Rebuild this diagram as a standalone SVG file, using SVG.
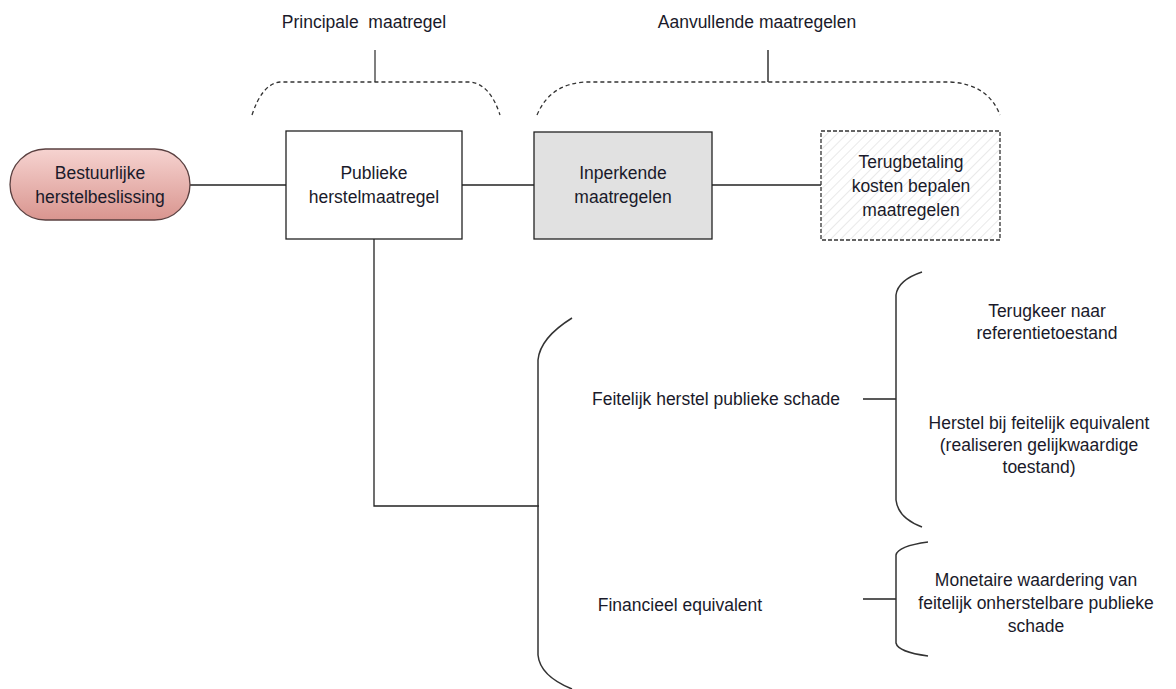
<svg xmlns="http://www.w3.org/2000/svg" width="1176" height="689" viewBox="0 0 1176 689">
<style>
text{font-family:"Liberation Sans",Arial,sans-serif;font-size:17.5px;fill:#1a1a2a;text-anchor:middle}
.ln{stroke:#222;stroke-width:1.3;fill:none}
.br{stroke:#333;stroke-width:1.5;fill:none}
.dbr{stroke:#333;stroke-width:1.3;fill:none;stroke-dasharray:4 3}
.box{stroke:#222;stroke-width:1.3}
</style>
<defs>
<linearGradient id="pill" x1="0" y1="0" x2="0" y2="1">
<stop offset="0" stop-color="#f6d3d0"/>
<stop offset="1" stop-color="#d9958f"/>
</linearGradient>
<pattern id="hatch" width="7" height="7" patternUnits="userSpaceOnUse" patternTransform="rotate(45)">
<line x1="0" y1="0" x2="0" y2="7" stroke="#d4d4d4" stroke-width="1"/>
</pattern>
</defs>
<rect width="1176" height="689" fill="#fff"/>
<g id="connectors">
<line class="ln" x1="190" y1="185" x2="286" y2="185"/>
<line class="ln" x1="462" y1="185" x2="534" y2="185"/>
<line class="ln" x1="712" y1="185" x2="821" y2="185"/>
<polyline class="ln" points="374,239 374,506 539,506"/>
<line class="ln" x1="863" y1="399" x2="896" y2="399"/>
<line class="ln" x1="863" y1="599" x2="896" y2="599"/>
</g>
<g id="brace-principale">
<text x="364" y="28" xml:space="preserve">Principale  maatregel</text>
<line x1="375" y1="50" x2="375" y2="82" stroke="#555" stroke-width="1.5"/>
<path class="dbr" d="M252,115 Q262,84 280,82 L470,82 Q490,84 500,115"/>
</g>
<g id="brace-aanvullende">
<text x="757" y="28">Aanvullende maatregelen</text>
<line x1="768" y1="50" x2="768" y2="82" stroke="#333" stroke-width="1.5"/>
<path class="dbr" d="M537,115 Q550,84 585,82 L950,82 Q988,84 1000,115"/>
</g>
<g id="node-bestuurlijke">
<rect x="10" y="149" width="180" height="71" rx="35.5" fill="url(#pill)" stroke="#5a4040" stroke-width="1.3"/>
<text x="100" y="179">Bestuurlijke</text>
<text x="100" y="203">herstelbeslissing</text>
</g>
<g id="node-publieke">
<rect class="box" x="286" y="131" width="176" height="108" fill="#fff"/>
<text x="374" y="179">Publieke</text>
<text x="374" y="203">herstelmaatregel</text>
</g>
<g id="node-inperkende">
<rect class="box" x="534" y="132" width="178" height="107" fill="#e1e1e1"/>
<text x="623" y="179">Inperkende</text>
<text x="623" y="203">maatregelen</text>
</g>
<g id="node-terugbetaling">
<rect x="821" y="131" width="179" height="109" fill="url(#hatch)" stroke="#333" stroke-width="1.3" stroke-dasharray="4 2"/>
<text x="911" y="168">Terugbetaling</text>
<text x="911" y="192">kosten bepalen</text>
<text x="911" y="216">maatregelen</text>
</g>
<g id="brace-main">
<path class="br" d="M572,318 Q540,338 538,360 L538,655 Q540,676 572,689"/>
<text x="716" y="405">Feitelijk herstel publieke schade</text>
<text x="680" y="611">Financieel equivalent</text>
</g>
<g id="brace-feitelijk">
<path class="br" d="M922,272 Q898,280 896,295 L896,500 Q898,518 922,527"/>
<text x="1047" y="317">Terugkeer naar</text>
<text x="1047" y="339">referentietoestand</text>
<text x="1039" y="429">Herstel bij feitelijk equivalent</text>
<text x="1039" y="451">(realiseren gelijkwaardige</text>
<text x="1039" y="473">toestand)</text>
</g>
<g id="brace-financieel">
<path class="br" d="M928,542 Q898,546 896,555 L896,643 Q898,652 928,656"/>
<text x="1036" y="586">Monetaire waardering van</text>
<text x="1036" y="609">feitelijk onherstelbare publieke</text>
<text x="1036" y="632">schade</text>
</g>
</svg>
